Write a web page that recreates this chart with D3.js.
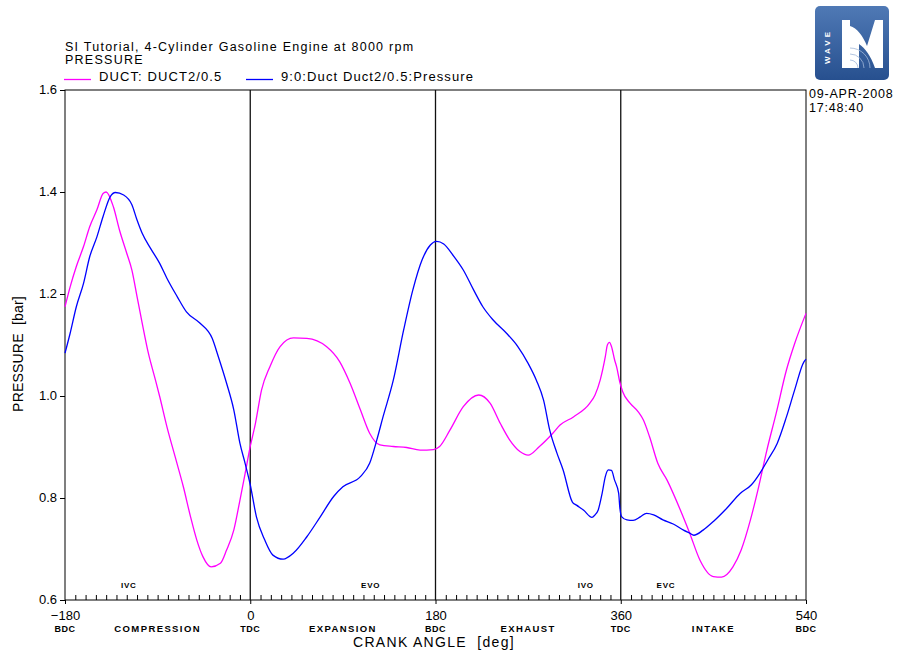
<!DOCTYPE html>
<html>
<head>
<meta charset="utf-8">
<script src="https://cdn.jsdelivr.net/npm/d3@7"></script>
<style>
  html, body { margin: 0; padding: 0; background: #fff; }
  svg { display: block; font-family: "Liberation Sans", Arial, Helvetica, sans-serif; }
</style>
</head>
<body>
<svg id="chart" width="904" height="650"></svg>
<script>
// ---- data ----
const titleLines = ["SI Tutorial, 4-Cylinder Gasoline Engine at 8000 rpm", "PRESSURE"];
const seriesNames = ["DUCT: DUCT2/0.5", "9:0:Duct Duct2/0.5:Pressure"];
const seriesColors = ["#ff00ff", "#0000ff"];

const anglePink = [-180,-175,-169,-162,-156,-149,-143,-140,-133,-127,-120,-115,-110,-105,-99,-93,-88,-81,-73,-65,-58,-52,-46,-38,-29,-23,-16,-10,-5,0,5,11,19,29,42,55,74,87,97,107,116,126,139,152,165,178,184,194,207,222,233,243,252,262,270,281,294,301,314,330,335,340,345,347,349,351,354,356,359,362,369,377,382,388,396,405,418,427,437,450,458,469,477,486,494,502,511,521,529,540];
const pressurePink = [1.175,1.214,1.254,1.293,1.332,1.365,1.397,1.400,1.371,1.325,1.280,1.247,1.195,1.143,1.084,1.038,0.999,0.940,0.881,0.822,0.763,0.718,0.685,0.665,0.672,0.698,0.737,0.796,0.848,0.901,0.946,1.012,1.057,1.097,1.114,1.113,1.097,1.067,1.025,0.973,0.927,0.904,0.901,0.899,0.894,0.895,0.901,0.933,0.979,1.002,0.986,0.946,0.914,0.891,0.884,0.901,0.927,0.943,0.959,0.986,1.002,1.031,1.077,1.100,1.105,1.097,1.071,1.057,1.028,1.008,0.986,0.969,0.953,0.920,0.868,0.835,0.776,0.731,0.678,0.646,0.645,0.665,0.698,0.757,0.822,0.894,0.966,1.051,1.103,1.162];

const angleBlue = [-180,-175,-169,-162,-156,-149,-143,-136,-131,-123,-115,-110,-105,-97,-88,-81,-71,-62,-49,-37,-31,-23,-16,-10,-5,0,6,14,22,32,42,55,68,81,90,107,116,123,129,139,149,158,167,175,181,188,197,207,217,226,236,249,260,270,278,285,291,298,304,313,317,324,332,335,338,342,345,348,351,354,358,359,361,366,372,379,385,392,401,411,421,427,431,440,450,463,476,487,495,503,512,521,529,538,540];
const pressureBlue = [1.084,1.123,1.175,1.221,1.273,1.312,1.352,1.391,1.399,1.394,1.375,1.345,1.319,1.290,1.260,1.231,1.195,1.165,1.143,1.113,1.077,1.025,0.973,0.907,0.868,0.826,0.763,0.718,0.688,0.680,0.692,0.724,0.763,0.803,0.822,0.842,0.868,0.914,0.959,1.031,1.129,1.208,1.267,1.296,1.303,1.298,1.276,1.247,1.208,1.175,1.149,1.123,1.097,1.064,1.031,0.992,0.933,0.888,0.855,0.792,0.786,0.776,0.762,0.767,0.776,0.810,0.842,0.855,0.854,0.835,0.809,0.783,0.763,0.757,0.756,0.763,0.770,0.767,0.757,0.749,0.737,0.731,0.727,0.737,0.754,0.780,0.809,0.826,0.848,0.875,0.907,0.959,1.012,1.067,1.072];

const xMajorTicks = [-180, 0, 180, 360, 540];
const xDeadCentres = ["BDC", "TDC", "BDC", "TDC", "BDC"];
const strokePhases = [{a: -90, t: "COMPRESSION"}, {a: 90, t: "EXPANSION"}, {a: 270, t: "EXHAUST"}, {a: 450, t: "INTAKE"}];
const valveEvents = [{a: -118, t: "IVC"}, {a: 117, t: "EVO"}, {a: 326, t: "IVO"}, {a: 404, t: "EVC"}];
const yTicks = [0.6, 0.8, 1.0, 1.2, 1.4, 1.6];
const dividerAngles = [0, 180, 360];
const dateLines = ["09-APR-2008", "17:48:40"];

// ---- drawing ----
const svg = d3.select("#chart");
svg.append("rect").attr("width", 904).attr("height", 650).attr("fill", "#fff");

const x = d3.scaleLinear().domain([-180, 540]).range([65, 806]);
const y = d3.scaleLinear().domain([0.6, 1.6]).range([600, 90]);

// frame
svg.append("rect").attr("x", x(-180)).attr("y", y(1.6))
  .attr("width", x(540) - x(-180)).attr("height", y(0.6) - y(1.6))
  .attr("fill", "none").attr("stroke", "#000").attr("stroke-width", 1);

// y axis
const yAxis = d3.axisLeft(y).tickValues(yTicks).tickFormat(d3.format(".1f")).tickSize(5).tickPadding(3);
const gy = svg.append("g").attr("transform", `translate(${x(-180)},0)`).call(yAxis);
gy.select(".domain").remove();
gy.selectAll("text").attr("font-size", 13).attr("font-family", "Liberation Sans, Arial, sans-serif")
  .attr("fill", "#000").attr("dy", "0.3em");

// x axis minor ticks (inside)
const minor = d3.range(-170, 540, 10).filter(d => !xMajorTicks.includes(d));
const xMinor = d3.axisTop(x).tickValues(minor).tickSize(5).tickFormat("");
const gxm = svg.append("g").attr("transform", `translate(0,${y(0.6)})`).call(xMinor);
gxm.select(".domain").remove();

// x axis major (outside)
const xAxis = d3.axisBottom(x).tickValues(xMajorTicks).tickSize(4).tickFormat(d3.format("d"));
const gx = svg.append("g").attr("transform", `translate(0,${y(0.6)})`).call(xAxis);
gx.select(".domain").remove();
gx.selectAll("text").attr("font-size", 13).attr("font-family", "Liberation Sans, Arial, sans-serif")
  .attr("fill", "#000").attr("y", 20).attr("dy", 0);

// dividers
svg.selectAll("line.div").data(dividerAngles).join("line")
  .attr("x1", d => x(d)).attr("x2", d => x(d)).attr("y1", y(1.6)).attr("y2", y(0.6))
  .attr("stroke", "#111").attr("stroke-width", 1.3);

// dead centre labels
svg.selectAll("text.dc").data(xMajorTicks).join("text")
  .attr("x", d => x(d)).attr("y", 632).attr("text-anchor", "middle")
  .attr("font-size", 9).attr("font-weight", "bold").attr("letter-spacing", 0.5)
  .text((d, i) => xDeadCentres[i]);

svg.selectAll("text.ph").data(strokePhases).join("text")
  .attr("x", d => x(d.a)).attr("y", 632).attr("text-anchor", "middle")
  .attr("font-size", 9.5).attr("font-weight", "bold").attr("letter-spacing", 1.4)
  .text(d => d.t);

svg.selectAll("text.ve").data(valveEvents).join("text")
  .attr("x", d => x(d.a)).attr("y", 588).attr("text-anchor", "middle")
  .attr("font-size", 8).attr("font-weight", "bold").attr("letter-spacing", 0.8)
  .text(d => d.t);

// axis titles
svg.append("text").attr("x", 434).attr("y", 647).attr("text-anchor", "middle")
  .attr("font-size", 14).attr("letter-spacing", 1.3).attr("xml:space", "preserve")
  .text("CRANK ANGLE  [deg]");
svg.append("text").attr("transform", "translate(23,354) rotate(-90)").attr("text-anchor", "middle")
  .attr("font-size", 14).attr("letter-spacing", 0.2).attr("xml:space", "preserve")
  .text("PRESSURE  [bar]");

// series
const line = d3.line().x(d => x(d[0])).y(d => y(d[1])).curve(d3.curveMonotoneX);
const pink = anglePink.map((a, i) => [a, pressurePink[i]]);
const blue = angleBlue.map((a, i) => [a, pressureBlue[i]]);
svg.append("path").datum(pink).attr("d", line).attr("fill", "none")
  .attr("stroke", seriesColors[0]).attr("stroke-width", 1.3);
svg.append("path").datum(blue).attr("d", line).attr("fill", "none")
  .attr("stroke", seriesColors[1]).attr("stroke-width", 1.3);

// title
svg.selectAll("text.title").data(titleLines).join("text")
  .attr("x", 65).attr("y", (d, i) => 51 + i * 12.5)
  .attr("font-size", 12.5).attr("letter-spacing", 1.25).text(d => d);

// legend
const legX = [64, 246];
const legG = svg.selectAll("g.leg").data(seriesNames).join("g")
  .attr("transform", (d, i) => `translate(${legX[i]},0)`);
legG.append("line").attr("x1", 0).attr("x2", 27).attr("y1", 79.5).attr("y2", 79.5)
  .attr("stroke", (d, i) => seriesColors[i]).attr("stroke-width", 1.3);
legG.append("text").attr("x", 35).attr("y", 81).attr("font-size", 13).attr("letter-spacing", 1.1).text(d => d);

// date
svg.selectAll("text.date").data(dateLines).join("text")
  .attr("x", 809).attr("y", (d, i) => 98 + i * 13.5).attr("font-size", 12.5).attr("letter-spacing", 0.8).text(d => d);

// logo
const defs = svg.append("defs");
const grad = defs.append("linearGradient").attr("id", "lg").attr("x1", 0).attr("y1", 0).attr("x2", 0).attr("y2", 1);
grad.append("stop").attr("offset", 0).attr("stop-color", "#4f79b5");
grad.append("stop").attr("offset", 1).attr("stop-color", "#27508f");
const logo = svg.append("g").attr("transform", "translate(815,6)");
logo.append("rect").attr("width", 74).attr("height", 74).attr("rx", 5).attr("fill", "url(#lg)");
logo.append("text").attr("transform", "translate(15,58) rotate(-90)").attr("fill", "#fff")
  .attr("font-size", 8).attr("font-weight", "bold").attr("letter-spacing", 3).text("WAVE");
logo.append("rect").attr("x", 27).attr("y", 14).attr("width", 8).attr("height", 48).attr("fill", "#fff");
logo.append("path").attr("fill", "#fff")
  .attr("d", "M35,62 L35,20 C42,22 48,30 52,40 L60,14 L68,14 L68,62 L60,62 C56,50 50,42 44,38 L44,62 Z");
logo.selectAll("path.arc").data([8, 14, 20]).join("path")
  .attr("fill", "none").attr("stroke", "#9fb6d8").attr("stroke-width", 0.8)
  .attr("d", r => `M${35 + r},62 A${r},${r} 0 0 0 35,${62 - r}`);
</script>
</body>
</html>
